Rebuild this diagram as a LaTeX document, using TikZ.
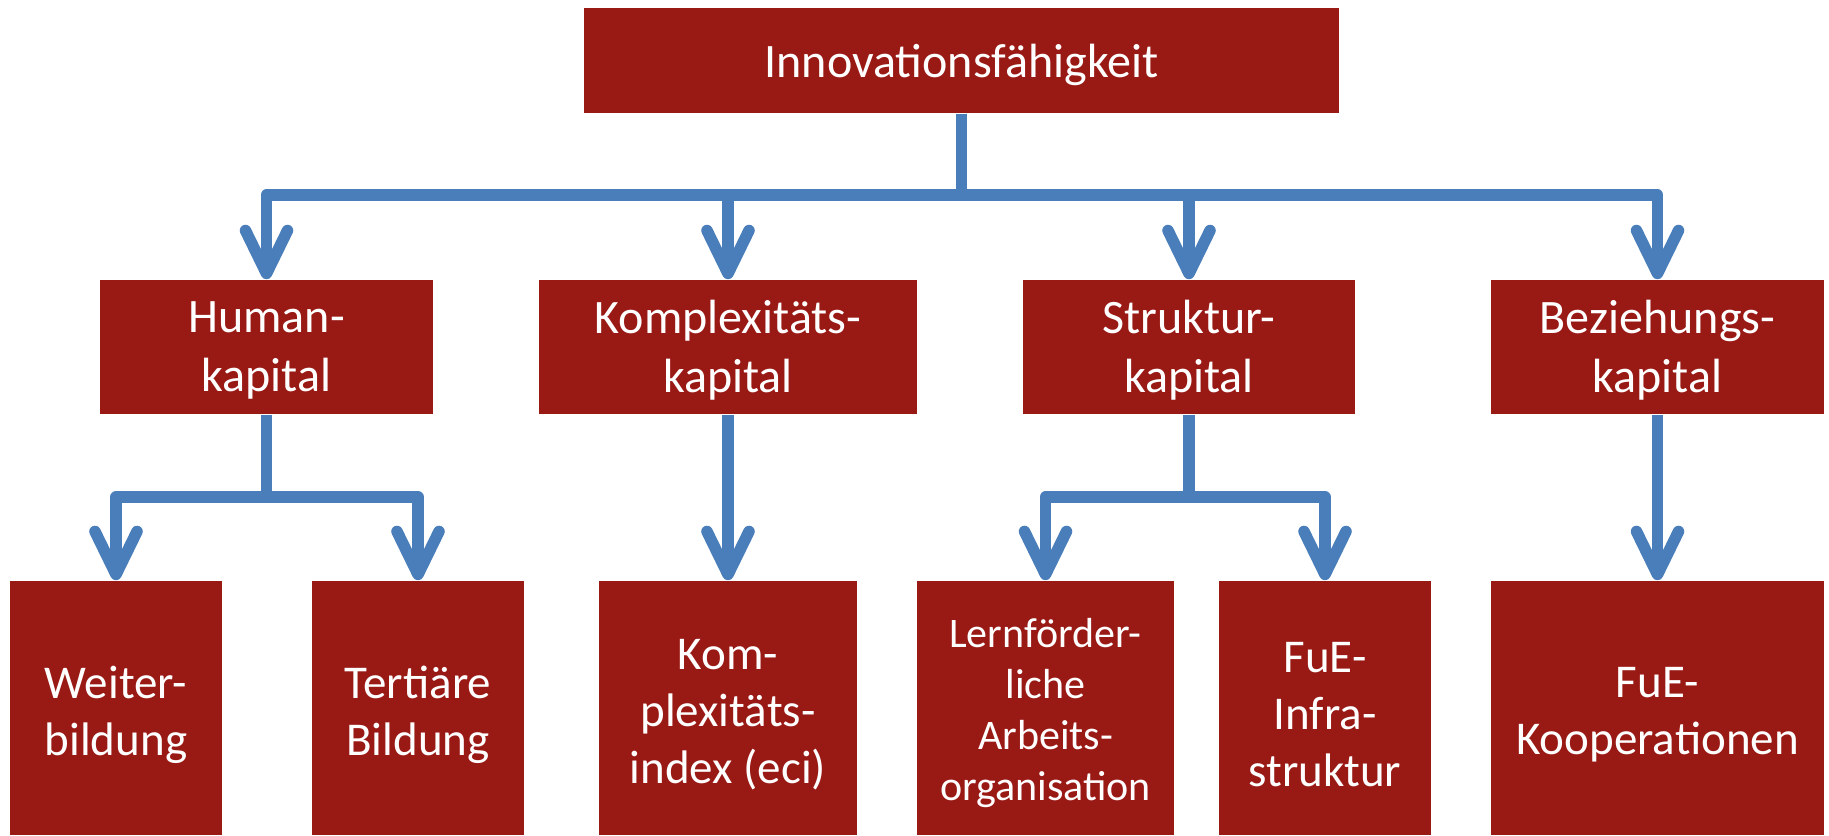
\documentclass[tikz,border=0pt]{standalone}
\usepackage{fontspec}
\setmainfont{Carlito}
\usetikzlibrary{arrows.meta}
\definecolor{boxred}{RGB}{153,25,21}
\definecolor{linkblue}{RGB}{74,126,187}
\begin{document}
\begin{tikzpicture}[x=0.01cm,y=-0.01cm,
  box/.style={fill=boxred, draw=none, inner sep=0pt},
  txt/.style={text=white, align=center, inner sep=0pt,
    font=\fontsize{13.66}{16.8}\selectfont},
  toptxt/.style={txt, yshift=-0.04cm},
  midtxt/.style={txt, yshift=-0.03cm},
  lowtxt/.style={txt, yshift=-0.065cm, font=\fontsize{13.37}{16.2}\selectfont},
  lerntxt/.style={txt, yshift=-0.05cm, font=\fontsize{11.95}{14.5}\selectfont},
  lowbox/.style={box, minimum height=2.54cm},
  midbox/.style={box, minimum height=1.34cm},
  link/.style={draw=linkblue, line width=0.115cm, line join=round,
    -{Straight Barb[length=0.43cm,width=0.42cm,round]}}]
\useasboundingbox (0,0) rectangle (1829,835);
% top
\node[box, minimum width=7.55cm, minimum height=1.05cm,
  label={[toptxt]center:Innovationsfähigkeit}] (top) at (961.5,60.5) {};
% level 2
\node[midbox, minimum width=3.33cm, label={[midtxt]center:{Human-\\kapital}}] (hum) at (266.5,347) {};
\node[midbox, minimum width=3.77cm, label={[midtxt]center:{Komplexitäts-\\kapital}}] (komp) at (728,347) {};
\node[midbox, minimum width=3.32cm, label={[midtxt]center:{Struktur-\\kapital}}] (str) at (1189,347) {};
\node[midbox, minimum width=3.33cm, label={[midtxt]center:{Beziehungs-\\kapital}}] (bez) at (1657.5,347) {};
% level 3
\node[lowbox, minimum width=2.12cm, label={[lowtxt]center:{Weiter-\\bildung}}] (wei) at (116,708) {};
\node[lowbox, minimum width=2.12cm, label={[lowtxt]center:{Tertiäre\\Bildung}}] (ter) at (418,708) {};
\node[lowbox, minimum width=2.57cm, label={[lowtxt]center:{Kom-\\plexitäts-\\index (eci)}}] (kidx) at (728,708) {};
\node[lowbox, minimum width=2.57cm, label={[lerntxt]center:{Lernförder-\\liche\\Arbeits-\\organisation}}] (lern) at (1045.5,708) {};
\node[lowbox, minimum width=2.12cm, label={[lowtxt]center:{FuE-\\Infra-\\struktur}}] (inf) at (1325,708) {};
\node[lowbox, minimum width=3.33cm, label={[lowtxt]center:{FuE-\\Kooperationen}}] (koop) at (1657.5,708) {};
% bars
\coordinate (b1) at (961.5,195);
\coordinate (b2) at (266.5,497);
\coordinate (b3) at (1189,497);
% connectors
\draw[link] (top.south) -- (b1) -| (hum.north);
\draw[link] (top.south) -- (b1) -| (komp.north);
\draw[link] (top.south) -- (b1) -| (str.north);
\draw[link] (top.south) -- (b1) -| (bez.north);
\draw[link] (hum.south) -- (b2) -| (wei.north);
\draw[link] (hum.south) -- (b2) -| (ter.north);
\draw[link] (komp.south) -- (kidx.north);
\draw[link] (str.south) -- (b3) -| (lern.north);
\draw[link] (str.south) -- (b3) -| (inf.north);
\draw[link] (bez.south) -- (koop.north);
\end{tikzpicture}
\end{document}
